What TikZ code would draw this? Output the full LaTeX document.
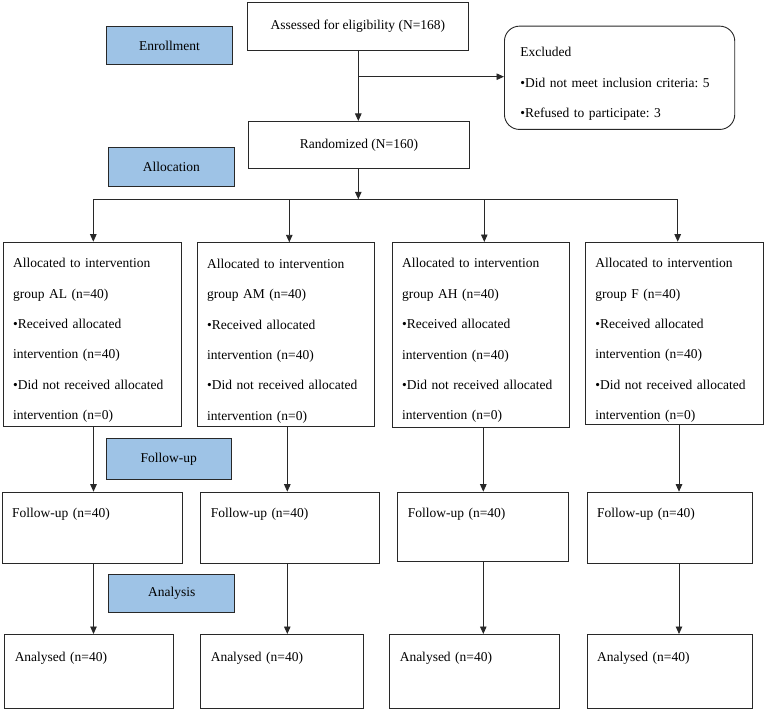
\documentclass[tikz,border=0pt]{standalone}
\usepackage{fontspec}
\setmainfont{Liberation Serif}
\usetikzlibrary{arrows.meta,calc}
\definecolor{phaseblue}{RGB}{158,195,230}
\definecolor{linegray}{RGB}{40,40,40}
\frenchspacing
\newcommand{\mybul}{\textbullet}
\begin{document}
\begin{tikzpicture}[x=1pt,y=-1pt,
  font=\fontsize{13.5}{30.4}\selectfont,
  box/.style={draw=linegray, line width=0.9pt, inner sep=0pt, anchor=north west},
  cbox/.style={box, align=center},
  phase/.style={box, fill=phaseblue, align=center},
  tbox/.style={box, align=left, inner xsep=10pt},
  arr/.style={draw=linegray, line width=0.9pt, -{Triangle[width=6.5pt,length=7.5pt]}},
  conn/.style={draw=linegray, line width=0.9pt}]
\useasboundingbox (0,0) rectangle (767,711);

% top
\node[cbox, minimum width=221pt, minimum height=48pt] (assessed) at (247,2) {Assessed for eligibility (N=168)};
\node[cbox, minimum width=221pt, minimum height=47.5pt] (randomized) at (248,121) {Randomized (N=160)};
\node[phase, minimum width=126pt, minimum height=38pt] (enroll) at (106,26) {Enrollment};
\node[phase, minimum width=125.6pt, minimum height=39pt] (alloc) at (108,147) {Allocation};
\node[box, rounded corners=15pt, align=left, inner xsep=16pt, text width=198.3pt,
      text height=30.5pt, text depth=72.8pt] (excluded) at (504,25.7)
  {Excluded\\\mybul Did not meet inclusion criteria: 5\\\mybul Refused to participate: 3};

% groups
\node[tbox, text width=158pt, text height=25.5pt, text depth=158.8pt] (g1) at (2.7,241.7)
  {Allocated to intervention\\group AL (n=40)\\\mybul Received allocated\\intervention (n=40)\\\mybul Did not received allocated\\intervention (n=0)};
\node[tbox, text width=157.6pt, text height=25.5pt, text depth=157.9pt] (g2) at (196.7,242.3)
  {Allocated to intervention\\group AM (n=40)\\\mybul Received allocated\\intervention (n=40)\\\mybul Did not received allocated\\intervention (n=0)};
\node[tbox, text width=157.6pt, text height=25.5pt, text depth=159.2pt] (g3) at (391.7,242)
  {Allocated to intervention\\group AH (n=40)\\\mybul Received allocated\\intervention (n=40)\\\mybul Did not received allocated\\intervention (n=0)};
\node[tbox, text width=157.7pt, text height=25.5pt, text depth=156.8pt] (g4) at (585,241.7)
  {Allocated to intervention\\group F (n=40)\\\mybul Received allocated\\intervention (n=40)\\\mybul Did not received allocated\\intervention (n=0)};

% follow-up
\node[phase, minimum width=124.7pt, minimum height=40.7pt] (fulabel) at (106,438.3) {Follow-up};
\node[tbox, text width=160.6pt, text height=25.5pt, text depth=45.5pt] (f1) at (1.7,491.7) {Follow-up (n=40)};
\node[tbox, text width=159pt, text height=25.5pt, text depth=45.5pt] (f2) at (200.3,491.7) {Follow-up (n=40)};
\node[tbox, text width=151pt, text height=25.5pt, text depth=43.8pt] (f3) at (397.3,491.7) {Follow-up (n=40)};
\node[tbox, text width=145.6pt, text height=25.5pt, text depth=45.8pt] (f4) at (586.7,491.7) {Follow-up (n=40)};

% analysis
\node[phase, minimum width=126pt, minimum height=37.4pt] (anlabel) at (108.3,574.3) {Analysis};
\node[tbox, text width=149pt, text height=27pt, text depth=47.3pt] (a1) at (4.3,634) {Analysed (n=40)};
\node[tbox, text width=142.7pt, text height=27pt, text depth=47.3pt] (a2) at (200.3,634) {Analysed (n=40)};
\node[tbox, text width=150pt, text height=27pt, text depth=47.3pt] (a3) at (389.3,634) {Analysed (n=40)};
\node[tbox, text width=145.6pt, text height=27pt, text depth=47.3pt] (a4) at (586.7,634) {Analysed (n=40)};

% coordinates
\coordinate (ex) at (358.3,76.7);
\coordinate (split) at (358.3,199.3);
\coordinate (c1) at (93.3,199.3);
\coordinate (c2) at (289.3,199.3);
\coordinate (c3) at (484.3,199.3);
\coordinate (c4) at (677.7,199.3);
\coordinate (d1) at (93.5,0);
\coordinate (d2) at (287.3,0);
\coordinate (d3) at (483.3,0);
\coordinate (d4) at (679,0);

% connectors
\draw[arr] (assessed.south -| ex) -- (randomized.north -| ex);
\draw[arr] (ex) -- (excluded.west |- ex);
\draw[arr] (randomized.south -| split) -- (split);
\draw[conn] (c1) -- (c4);
\draw[arr] (c1) -- (c1 |- g1.north);
\draw[arr] (c2) -- (c2 |- g2.north);
\draw[arr] (c3) -- (c3 |- g3.north);
\draw[arr] (c4) -- (c4 |- g4.north);
\draw[arr] (g1.south -| d1) -- (f1.north -| d1);
\draw[arr] (g2.south -| d2) -- (f2.north -| d2);
\draw[arr] (g3.south -| d3) -- (f3.north -| d3);
\draw[arr] (g4.south -| d4) -- (f4.north -| d4);
\draw[arr] (f1.south -| d1) -- (a1.north -| d1);
\draw[arr] (f2.south -| d2) -- (a2.north -| d2);
\draw[arr] (f3.south -| d3) -- (a3.north -| d3);
\draw[arr] (f4.south -| d4) -- (a4.north -| d4);
\end{tikzpicture}
\end{document}
